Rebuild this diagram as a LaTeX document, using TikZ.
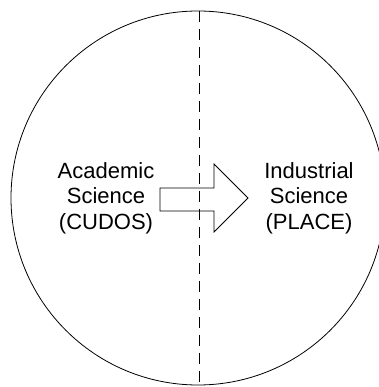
\documentclass[tikz,border=0pt]{standalone}
\usepackage{fontspec}
\setmainfont{Liberation Sans}
\begin{document}
\begin{tikzpicture}[x=1pt,y=1pt,
    outline/.style={draw=black, line width=0.8pt},
    divider/.style={draw=black, line width=0.9pt, dash pattern=on 11pt off 7pt},
    label/.style={align=center, font=\fontsize{22}{25.5}\selectfont, inner sep=0pt}]
  \useasboundingbox (0,0) rectangle (378,387);
  % the sphere
  \draw[outline] (198,189) circle (187);
  % block arrow
  \draw[outline]
    (160,199) -- (214,199) -- (214,223) -- (248,189) -- (214,155)
    -- (214,176) -- (160,176) -- cycle;
  % dividing line, drawn across the arrow
  \coordinate (top) at (199,376);
  \coordinate (bottom) at (199,2);
  \draw[divider] (top) -- (bottom);
  % labels
  \node[label] (acad) at (106,189) {Academic\\Science\\(CUDOS)};
  \node[label] (ind) at (309,189) {Industrial\\Science\\(PLACE)};
\end{tikzpicture}
\end{document}
